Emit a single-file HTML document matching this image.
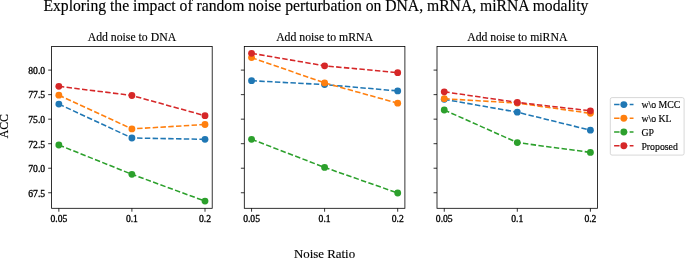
<!DOCTYPE html><html><head><meta charset="utf-8"><style>html,body{margin:0;padding:0;background:#fff;}svg{display:block;will-change:transform}.s{stroke:#000;stroke-width:0.3px}.m{stroke:#000;stroke-width:0.15px}</style></head><body>
<svg width="685" height="258" viewBox="0 0 685 258" font-family="'Liberation Serif', serif">
<rect width="685" height="258" fill="#fff"/>
<text x="315.9" y="11.1" font-size="15.66" text-anchor="middle" class="m">Exploring the impact of random noise perturbation on DNA, mRNA, miRNA modality</text>
<text x="131.90" y="40.6" font-size="11.75" text-anchor="middle" class="m">Add noise to DNA</text>
<g clip-path="none">
<polyline points="58.85,104.10 131.90,138.00 205.00,139.30" fill="none" stroke="#1f77b4" stroke-width="1.55" stroke-dasharray="5.44 2.35"/>
<circle cx="58.85" cy="104.10" r="3.42" fill="#1f77b4"/>
<circle cx="131.90" cy="138.00" r="3.42" fill="#1f77b4"/>
<circle cx="205.00" cy="139.30" r="3.42" fill="#1f77b4"/>
<polyline points="58.85,95.20 131.90,128.90 205.00,124.50" fill="none" stroke="#ff7f0e" stroke-width="1.55" stroke-dasharray="5.44 2.35"/>
<circle cx="58.85" cy="95.20" r="3.42" fill="#ff7f0e"/>
<circle cx="131.90" cy="128.90" r="3.42" fill="#ff7f0e"/>
<circle cx="205.00" cy="124.50" r="3.42" fill="#ff7f0e"/>
<polyline points="58.85,145.00 131.90,174.30 205.00,201.10" fill="none" stroke="#2ca02c" stroke-width="1.55" stroke-dasharray="5.44 2.35"/>
<circle cx="58.85" cy="145.00" r="3.42" fill="#2ca02c"/>
<circle cx="131.90" cy="174.30" r="3.42" fill="#2ca02c"/>
<circle cx="205.00" cy="201.10" r="3.42" fill="#2ca02c"/>
<polyline points="58.85,86.30 131.90,95.50 205.00,115.70" fill="none" stroke="#d62728" stroke-width="1.55" stroke-dasharray="5.44 2.35"/>
<circle cx="58.85" cy="86.30" r="3.42" fill="#d62728"/>
<circle cx="131.90" cy="95.50" r="3.42" fill="#d62728"/>
<circle cx="205.00" cy="115.70" r="3.42" fill="#d62728"/>
</g>
<rect x="51.60" y="46.5" width="160.60" height="161.80" fill="none" stroke="#000" stroke-width="0.8"/>
<line x1="48.17" y1="192.75" x2="51.60" y2="192.75" stroke="#000" stroke-width="0.8"/>
<text x="45.15" y="196.60" font-size="9.65" text-anchor="end" class="s">67.5</text>
<line x1="48.17" y1="168.22" x2="51.60" y2="168.22" stroke="#000" stroke-width="0.8"/>
<text x="45.15" y="172.07" font-size="9.65" text-anchor="end" class="s">70.0</text>
<line x1="48.17" y1="143.69" x2="51.60" y2="143.69" stroke="#000" stroke-width="0.8"/>
<text x="45.15" y="147.54" font-size="9.65" text-anchor="end" class="s">72.5</text>
<line x1="48.17" y1="119.16" x2="51.60" y2="119.16" stroke="#000" stroke-width="0.8"/>
<text x="45.15" y="123.01" font-size="9.65" text-anchor="end" class="s">75.0</text>
<line x1="48.17" y1="94.63" x2="51.60" y2="94.63" stroke="#000" stroke-width="0.8"/>
<text x="45.15" y="98.48" font-size="9.65" text-anchor="end" class="s">77.5</text>
<line x1="48.17" y1="70.10" x2="51.60" y2="70.10" stroke="#000" stroke-width="0.8"/>
<text x="45.15" y="73.95" font-size="9.65" text-anchor="end" class="s">80.0</text>
<line x1="58.85" y1="208.3" x2="58.85" y2="211.73" stroke="#000" stroke-width="0.8"/>
<text x="58.85" y="222.4" font-size="9.65" text-anchor="middle" class="s">0.05</text>
<line x1="131.90" y1="208.3" x2="131.90" y2="211.73" stroke="#000" stroke-width="0.8"/>
<text x="131.90" y="222.4" font-size="9.65" text-anchor="middle" class="s">0.1</text>
<line x1="205.00" y1="208.3" x2="205.00" y2="211.73" stroke="#000" stroke-width="0.8"/>
<text x="205.00" y="222.4" font-size="9.65" text-anchor="middle" class="s">0.2</text>
<text x="324.60" y="40.6" font-size="11.75" text-anchor="middle" class="m">Add noise to mRNA</text>
<g clip-path="none">
<polyline points="251.55,80.70 324.60,84.60 397.70,90.90" fill="none" stroke="#1f77b4" stroke-width="1.55" stroke-dasharray="5.44 2.35"/>
<circle cx="251.55" cy="80.70" r="3.42" fill="#1f77b4"/>
<circle cx="324.60" cy="84.60" r="3.42" fill="#1f77b4"/>
<circle cx="397.70" cy="90.90" r="3.42" fill="#1f77b4"/>
<polyline points="251.55,57.60 324.60,82.90 397.70,103.20" fill="none" stroke="#ff7f0e" stroke-width="1.55" stroke-dasharray="5.44 2.35"/>
<circle cx="251.55" cy="57.60" r="3.42" fill="#ff7f0e"/>
<circle cx="324.60" cy="82.90" r="3.42" fill="#ff7f0e"/>
<circle cx="397.70" cy="103.20" r="3.42" fill="#ff7f0e"/>
<polyline points="251.55,139.30 324.60,167.40 397.70,193.00" fill="none" stroke="#2ca02c" stroke-width="1.55" stroke-dasharray="5.44 2.35"/>
<circle cx="251.55" cy="139.30" r="3.42" fill="#2ca02c"/>
<circle cx="324.60" cy="167.40" r="3.42" fill="#2ca02c"/>
<circle cx="397.70" cy="193.00" r="3.42" fill="#2ca02c"/>
<polyline points="251.55,53.30 324.60,65.80 397.70,72.70" fill="none" stroke="#d62728" stroke-width="1.55" stroke-dasharray="5.44 2.35"/>
<circle cx="251.55" cy="53.30" r="3.42" fill="#d62728"/>
<circle cx="324.60" cy="65.80" r="3.42" fill="#d62728"/>
<circle cx="397.70" cy="72.70" r="3.42" fill="#d62728"/>
</g>
<rect x="244.30" y="46.5" width="160.60" height="161.80" fill="none" stroke="#000" stroke-width="0.8"/>
<line x1="240.87" y1="192.75" x2="244.30" y2="192.75" stroke="#000" stroke-width="0.8"/>
<line x1="240.87" y1="168.22" x2="244.30" y2="168.22" stroke="#000" stroke-width="0.8"/>
<line x1="240.87" y1="143.69" x2="244.30" y2="143.69" stroke="#000" stroke-width="0.8"/>
<line x1="240.87" y1="119.16" x2="244.30" y2="119.16" stroke="#000" stroke-width="0.8"/>
<line x1="240.87" y1="94.63" x2="244.30" y2="94.63" stroke="#000" stroke-width="0.8"/>
<line x1="240.87" y1="70.10" x2="244.30" y2="70.10" stroke="#000" stroke-width="0.8"/>
<line x1="251.55" y1="208.3" x2="251.55" y2="211.73" stroke="#000" stroke-width="0.8"/>
<text x="251.55" y="222.4" font-size="9.65" text-anchor="middle" class="s">0.05</text>
<line x1="324.60" y1="208.3" x2="324.60" y2="211.73" stroke="#000" stroke-width="0.8"/>
<text x="324.60" y="222.4" font-size="9.65" text-anchor="middle" class="s">0.1</text>
<line x1="397.70" y1="208.3" x2="397.70" y2="211.73" stroke="#000" stroke-width="0.8"/>
<text x="397.70" y="222.4" font-size="9.65" text-anchor="middle" class="s">0.2</text>
<text x="517.30" y="40.6" font-size="11.75" text-anchor="middle" class="m">Add noise to miRNA</text>
<g clip-path="none">
<polyline points="444.25,99.30 517.30,112.20 590.40,130.20" fill="none" stroke="#1f77b4" stroke-width="1.55" stroke-dasharray="5.44 2.35"/>
<circle cx="444.25" cy="99.30" r="3.42" fill="#1f77b4"/>
<circle cx="517.30" cy="112.20" r="3.42" fill="#1f77b4"/>
<circle cx="590.40" cy="130.20" r="3.42" fill="#1f77b4"/>
<polyline points="444.25,98.70 517.30,103.10 590.40,113.30" fill="none" stroke="#ff7f0e" stroke-width="1.55" stroke-dasharray="5.44 2.35"/>
<circle cx="444.25" cy="98.70" r="3.42" fill="#ff7f0e"/>
<circle cx="517.30" cy="103.10" r="3.42" fill="#ff7f0e"/>
<circle cx="590.40" cy="113.30" r="3.42" fill="#ff7f0e"/>
<polyline points="444.25,110.00 517.30,142.60 590.40,152.40" fill="none" stroke="#2ca02c" stroke-width="1.55" stroke-dasharray="5.44 2.35"/>
<circle cx="444.25" cy="110.00" r="3.42" fill="#2ca02c"/>
<circle cx="517.30" cy="142.60" r="3.42" fill="#2ca02c"/>
<circle cx="590.40" cy="152.40" r="3.42" fill="#2ca02c"/>
<polyline points="444.25,91.80 517.30,102.40 590.40,110.80" fill="none" stroke="#d62728" stroke-width="1.55" stroke-dasharray="5.44 2.35"/>
<circle cx="444.25" cy="91.80" r="3.42" fill="#d62728"/>
<circle cx="517.30" cy="102.40" r="3.42" fill="#d62728"/>
<circle cx="590.40" cy="110.80" r="3.42" fill="#d62728"/>
</g>
<rect x="437.00" y="46.5" width="160.60" height="161.80" fill="none" stroke="#000" stroke-width="0.8"/>
<line x1="433.57" y1="192.75" x2="437.00" y2="192.75" stroke="#000" stroke-width="0.8"/>
<line x1="433.57" y1="168.22" x2="437.00" y2="168.22" stroke="#000" stroke-width="0.8"/>
<line x1="433.57" y1="143.69" x2="437.00" y2="143.69" stroke="#000" stroke-width="0.8"/>
<line x1="433.57" y1="119.16" x2="437.00" y2="119.16" stroke="#000" stroke-width="0.8"/>
<line x1="433.57" y1="94.63" x2="437.00" y2="94.63" stroke="#000" stroke-width="0.8"/>
<line x1="433.57" y1="70.10" x2="437.00" y2="70.10" stroke="#000" stroke-width="0.8"/>
<line x1="444.25" y1="208.3" x2="444.25" y2="211.73" stroke="#000" stroke-width="0.8"/>
<text x="444.25" y="222.4" font-size="9.65" text-anchor="middle" class="s">0.05</text>
<line x1="517.30" y1="208.3" x2="517.30" y2="211.73" stroke="#000" stroke-width="0.8"/>
<text x="517.30" y="222.4" font-size="9.65" text-anchor="middle" class="s">0.1</text>
<line x1="590.40" y1="208.3" x2="590.40" y2="211.73" stroke="#000" stroke-width="0.8"/>
<text x="590.40" y="222.4" font-size="9.65" text-anchor="middle" class="s">0.2</text>
<text x="324.5" y="257.9" font-size="12.9" text-anchor="middle" class="m">Noise Ratio</text>
<text transform="translate(7.8,126.2) rotate(-90)" font-size="11.8" text-anchor="middle" class="m">ACC</text>
<rect x="610.3" y="97.6" width="73.8" height="57.5" rx="1.8" ry="1.8" fill="#fff" fill-opacity="0.8" stroke="#cccccc" stroke-opacity="0.8" stroke-width="0.98"/>
<line x1="614.1" y1="104.55" x2="633.5" y2="104.55" stroke="#1f77b4" stroke-width="1.55" stroke-dasharray="5.44 2.35"/>
<circle cx="623.8" cy="104.55" r="3.42" fill="#1f77b4"/>
<text x="641.4" y="108.35" font-size="9.8" class="m">w\o MCC</text>
<line x1="614.1" y1="118.27" x2="633.5" y2="118.27" stroke="#ff7f0e" stroke-width="1.55" stroke-dasharray="5.44 2.35"/>
<circle cx="623.8" cy="118.27" r="3.42" fill="#ff7f0e"/>
<text x="641.4" y="122.07" font-size="9.8" class="m">w\o KL</text>
<line x1="614.1" y1="131.99" x2="633.5" y2="131.99" stroke="#2ca02c" stroke-width="1.55" stroke-dasharray="5.44 2.35"/>
<circle cx="623.8" cy="131.99" r="3.42" fill="#2ca02c"/>
<text x="641.4" y="135.79" font-size="9.8" class="m">GP</text>
<line x1="614.1" y1="145.71" x2="633.5" y2="145.71" stroke="#d62728" stroke-width="1.55" stroke-dasharray="5.44 2.35"/>
<circle cx="623.8" cy="145.71" r="3.42" fill="#d62728"/>
<text x="641.4" y="149.51" font-size="9.8" class="m">Proposed</text>
</svg></body></html>
